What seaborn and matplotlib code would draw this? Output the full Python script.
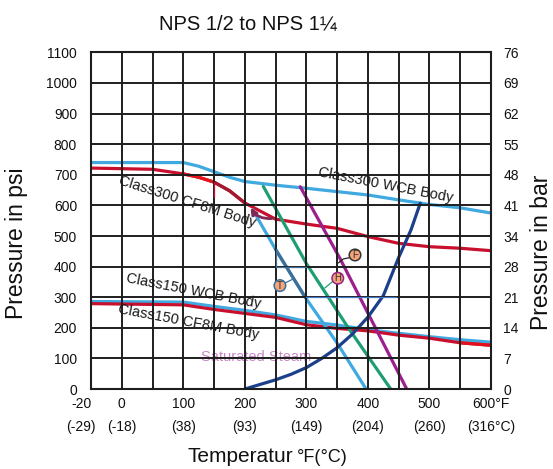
import matplotlib
matplotlib.use("Agg")
import matplotlib.pyplot as plt
import seaborn as sns

sns.set_theme(style="white")
plt.rcParams['font.family'] = ['Liberation Sans', 'DejaVu Sans']

# ---------------- data ----------------
f_ticks = [0, 100, 200, 300, 400, 500, 600]
f_labels = ["0", "100", "200", "300", "400", "500", "600°F"]
c_labels = ["(-18)", "(38)", "(93)", "(149)", "(204)", "(260)", "(316°C)"]
first_f_label = "-20"
first_c_label = "(-29)"
first_label_pos = -66
psi_ticks = [0, 100, 200, 300, 400, 500, 600, 700, 800, 900, 1000, 1100]
bar_labels = ["0", "7", "14", "21", "28", "34", "41", "48", "55", "62", "69", "76"]

wcb300_t = [-50, 100, 125, 150, 175, 200, 250, 300, 350, 400, 450, 500, 550, 600]
wcb300_p = [740, 740, 728, 710, 692, 678, 666, 656, 645, 634, 618, 603, 592, 575]

cf8m300_t = [-50, 50, 100, 125, 150, 175, 200, 250, 300, 350, 400, 450, 500, 550, 600]
cf8m300_p = [722, 718, 703, 692, 676, 648, 608, 555, 539, 525, 498, 476, 465, 460, 452]

wcb150_t = [-50, 100, 150, 200, 250, 300, 350, 400, 450, 500, 550, 600]
wcb150_p = [286, 284, 270, 257, 242, 221, 209, 194, 182, 171, 161, 153]

cf8m150_t = [-50, 100, 150, 200, 250, 300, 350, 400, 450, 500, 550, 600]
cf8m150_p = [279, 275, 260, 247, 234, 210, 198, 190, 176, 166, 151, 143]

seat_t_t = [213, 250, 298, 350, 397]
seat_t_p = [585, 456, 300, 150, 0]
seat_h_t = [230, 300, 368, 437]
seat_h_p = [662, 410, 200, 0]
seat_f_t = [290, 355, 463]
seat_f_p = [661, 425, 0]

steam_t = [200, 225, 250, 275, 300, 325, 350, 375, 400, 425, 450, 470, 485]
steam_p = [0, 15, 30, 48, 70, 100, 135, 180, 235, 305, 430, 520, 607]

# marker circles (letter, x, y) and their leader lines
badges = [("T", 257, 338), ("H", 351, 362), ("F", 379, 438)]
lead_t_x, lead_t_y = [264, 279], [345, 360]
lead_h_x, lead_h_y = [343, 330], [352, 330]
lead_f_x, lead_f_y = [372, 360, 352], [430, 425, 412]
thin_v_x, thin_v_y = [250, 250, 300], [456, 400, 400]
thin_h_x, thin_h_y = [300, 445], [300, 300]
red_tick_x, red_tick_y = [150, 150], [675, 628]

C_BLUE = "#3fa9e0"
C_RED = "#c8102e"
C_RED_B = "#e8141c"
C_RED_D = "#a3172f"
C_STEEL = "#3d6f99"
C_GREEN = "#1f9e74"
C_PURPLE = "#9c1f8e"
C_NAVY = "#1b3f8b"

# ---------------- figure ----------------
fig = plt.figure(figsize=(5.53, 4.69), dpi=100)
ax = fig.add_axes([91 / 553, 1 - 389 / 469, 400 / 553, 336.6 / 469])

lw = 2.3
def line(x, y, color, w=lw, z=2):
    sns.lineplot(x=x, y=y, color=color, linewidth=w, ax=ax, sort=False,
                 estimator=None, legend=False, zorder=z)

line(wcb300_t, wcb300_p, C_BLUE)
line(cf8m300_t, cf8m300_p, C_RED)
line(cf8m300_t[2:5], cf8m300_p[2:5], C_RED_B)
line(cf8m300_t[4:7], cf8m300_p[4:7], C_RED_D)
line(wcb150_t, wcb150_p, C_BLUE)
line(cf8m150_t, cf8m150_p, C_RED)
line(cf8m150_t[-2:], cf8m150_p[-2:], "#e3101c")
line(seat_t_t, seat_t_p, C_BLUE)
line(seat_t_t[1:3], seat_t_p[1:3], C_STEEL)
line(seat_h_t, seat_h_p, C_GREEN)
line(seat_f_t, seat_f_p, C_PURPLE)
line(steam_t, steam_p, C_NAVY)

# thin construction lines
line(thin_v_x, thin_v_y, C_STEEL, w=0.9, z=3)
line(thin_h_x, thin_h_y, "#4a78c8", w=0.9, z=3)
line(red_tick_x, red_tick_y, C_RED, w=0.9, z=3)
line(lead_t_x, lead_t_y, C_STEEL, w=0.9, z=3)
line(lead_h_x, lead_h_y, C_GREEN, w=0.9, z=3)
line(lead_f_x, lead_f_y, "#222222", w=0.9, z=3)

# hook arrow
ax.annotate("", xy=(207, 600), xytext=(248, 558),
            arrowprops=dict(arrowstyle="-|>", color="#7e2a55", lw=2,
                            connectionstyle="arc3,rad=-0.35", mutation_scale=9),
            zorder=4)

# badges
badge_edges = {"T": "#3d6f99", "H": "#9c1f8e", "F": "#333333"}
for letter, bx, by in badges:
    ax.text(bx, by, letter, fontsize=7, ha="center", va="center", color="#3a2a2a",
            zorder=5,
            bbox=dict(boxstyle="circle,pad=0.08", fc="#f2a47a", ec=badge_edges[letter], lw=1.1))

# class labels
lab_kw = dict(fontsize=10.5, color="#1a1a1a", ha="center", va="center",
              rotation_mode="anchor", zorder=4)
ax.text(428, 667, "Class300 WCB Body", rotation=-11, **lab_kw)
ax.text(107, 612, "Class300 CF8M Body", rotation=-17.5, **lab_kw)
ax.text(116, 318, "Class150 WCB Body", rotation=-11, **lab_kw)
ax.text(109, 220, "Class150 CF8M Body", rotation=-10.5, **lab_kw)
ax.text(219, 103, "Saturated Steam", fontsize=10.5, color="#c27cc0", alpha=0.9,
        ha="center", va="center", zorder=1)

# axes / grid
ax.set_xlim(-50, 600)
ax.set_ylim(0, 1100)
ax.set_xticks(f_ticks)
ax.set_xticks(list(range(-50, 601, 50)), minor=True)
ax.set_xticklabels([f"{a}\n{b}" for a, b in zip(f_labels, c_labels)],
                   linespacing=1.75)
ax.set_yticks(psi_ticks)
ax.set_yticklabels([str(v) for v in psi_ticks])
ax.set_axisbelow(False)
ax.grid(True, which="both", color="#1e1e1e", linewidth=1.4)
ax.tick_params(axis="both", which="both", length=0, labelsize=10, colors="#111111")
ax.tick_params(axis="x", pad=6)
ax.tick_params(axis="y", pad=10)
for s in ax.spines.values():
    s.set_color("#1e1e1e")
    s.set_linewidth(1.5)
ax.set_xlabel("")
ax.set_ylabel("")

ax.annotate(f"{first_f_label}\n{first_c_label}", xy=(first_label_pos, 0),
            xycoords=("data", "axes fraction"), xytext=(0, -6),
            textcoords="offset points", ha="center", va="top", fontsize=10,
            linespacing=1.75, color="#111111", annotation_clip=False)

ax2 = ax.twinx()
ax2.set_ylim(0, 1100)
ax2.set_yticks(psi_ticks)
ax2.set_yticklabels(bar_labels)
ax2.tick_params(axis="y", length=0, labelsize=10, pad=9, colors="#111111")
ax2.grid(False)
for s in ax2.spines.values():
    s.set_visible(False)

fig.text(248 / 553, 1 - 24 / 469, "NPS 1/2 to NPS 1¼", fontsize=14.5,
         ha="center", va="center", color="#111111")
fig.text(17 / 553, 1 - 243 / 469, "Pressure in psi", fontsize=16.5, rotation=90,
         ha="center", va="center", color="#111111")
fig.text(542 / 553, 1 - 252 / 469, "Pressure in bar", fontsize=16.5, rotation=90,
         ha="center", va="center", color="#111111")
fig.text(293 / 553, 1 - 462 / 469, "Temperatur", fontsize=15, ha="right",
         va="baseline", color="#111111")
fig.text(297 / 553, 1 - 462 / 469, "°F(°C)", fontsize=13, ha="left",
         va="baseline", color="#111111")

fig.savefig("out.png", dpi=100)
